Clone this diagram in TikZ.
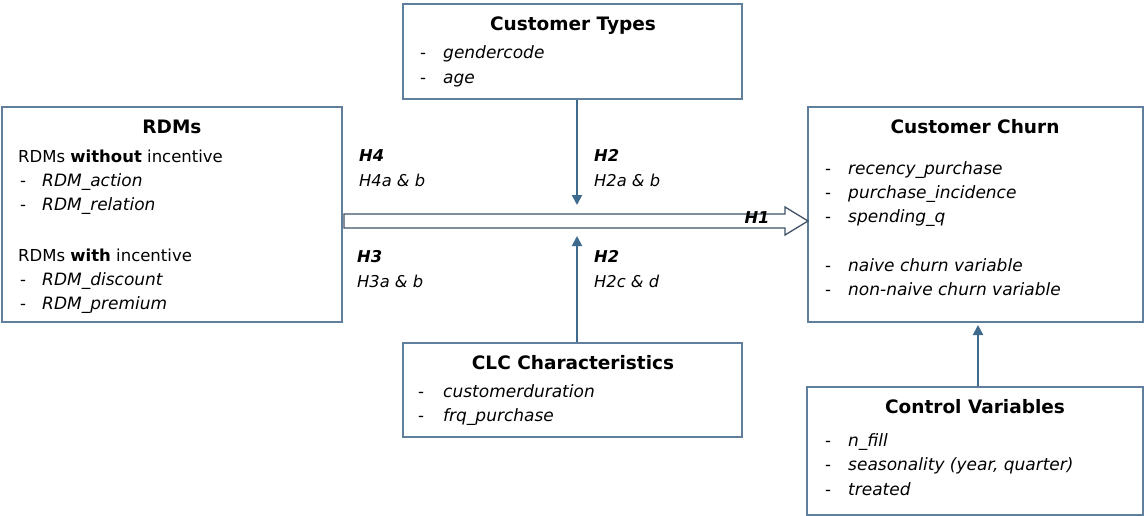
\documentclass[tikz,border=0pt]{standalone}
\usepackage{fontspec}
\setmainfont{DejaVu Sans}
\usetikzlibrary{arrows.meta}
\definecolor{boxc}{HTML}{5F7F9C}
\definecolor{arrc}{HTML}{3E6A8E}
\definecolor{hone}{HTML}{3F5266}
\begin{document}
\begin{tikzpicture}[x=1pt,y=-1pt,
  box/.style={draw=boxc,line width=1.4pt,inner sep=0pt},
  ttl/.style={font=\fontsize{18.5}{21}\selectfont\bfseries,anchor=mid},
  txt/.style={font=\fontsize{16.5}{19}\selectfont,anchor=mid west,inner sep=0pt},
  itm/.style={font=\fontsize{17}{19}\selectfont\itshape,anchor=mid west,inner sep=0pt},
  hyp/.style={font=\fontsize{16.3}{19}\selectfont\itshape,anchor=mid west,inner sep=0pt},
  hypb/.style={font=\fontsize{16.3}{19}\selectfont\bfseries\itshape,anchor=mid west,inner sep=0pt},
  conn/.style={draw=arrc,line width=2pt,-{Triangle[length=10pt,width=10pt]}}]
\useasboundingbox (0,0) rectangle (1148,516);
% boxes
\node[box,minimum width=340pt,minimum height=215pt] (rdm) at (172,214.5) {};
\node[box,minimum width=339pt,minimum height=95pt] (ct) at (572.5,51.5) {};
\node[box,minimum width=335pt,minimum height=215pt] (churn) at (975.5,214.5) {};
\node[box,minimum width=339pt,minimum height=94pt] (clc) at (572.5,390) {};
\node[box,minimum width=336pt,minimum height=128pt] (ctrl) at (975,451) {};
% RDMs
\node[ttl] (rdmt) at (172,131) {RDMs};
\node[txt] (rdm1) at (18,160) {RDMs \textbf{without} incentive};
\node[txt] (rdmd1) at (20,184) {-};
\node[itm] (rdm2) at (42,184) {RDM\_action};
\node[txt] (rdmd2) at (20,208) {-};
\node[itm] (rdm3) at (42,208) {RDM\_relation};
\node[txt] (rdm4) at (18,259) {RDMs \textbf{with} incentive};
\node[txt] (rdmd3) at (20,283) {-};
\node[itm] (rdm5) at (42,283) {RDM\_discount};
\node[txt] (rdmd4) at (20,307) {-};
\node[itm] (rdm6) at (42,307) {RDM\_premium};
% Customer types
\node[ttl] (ctt) at (573,28) {Customer Types};
\node[txt] (ctd1) at (420,56) {-};
\node[itm] (ct1) at (443,56) {gendercode};
\node[txt] (ctd2) at (420,81) {-};
\node[itm] (ct2) at (443,81) {age};
% Churn
\node[ttl] (cht) at (975,131) {Customer Churn};
\node[txt] (chd1) at (825,172) {-};
\node[itm] (ch1) at (848,172) {recency\_purchase};
\node[txt] (chd2) at (825,196) {-};
\node[itm] (ch2) at (848,196) {purchase\_incidence};
\node[txt] (chd3) at (825,220) {-};
\node[itm] (ch3) at (848,220) {spending\_q};
\node[txt] (chd4) at (825,269) {-};
\node[itm] (ch4) at (848,269) {naive churn variable};
\node[txt] (chd5) at (825,293) {-};
\node[itm] (ch5) at (848,293) {non-naive churn variable};
% CLC
\node[ttl] (clct) at (573,367) {CLC Characteristics};
\node[txt] (clcd1) at (418,395) {-};
\node[itm] (clc1) at (443,395) {customerduration};
\node[txt] (clcd2) at (418,419) {-};
\node[itm] (clc2) at (443,419) {frq\_purchase};
% Control
\node[ttl] (ctrlt) at (975,411) {Control Variables};
\node[txt] (ctrld1) at (825,444) {-};
\node[itm] (ctrl1) at (848,444) {n\_fill};
\node[txt] (ctrld2) at (825,468) {-};
\node[itm] (ctrl2) at (848,468) {seasonality (year, quarter)};
\node[txt] (ctrld3) at (825,493) {-};
\node[itm] (ctrl3) at (848,493) {treated};
% H1 big arrow
\draw[draw=hone,line width=1.3pt,fill=white,line join=miter]
  (344,214) -- (785,214) -- (785,207) -- (808,221) -- (785,235) -- (785,228) -- (344,228) -- cycle;
\node[hypb,anchor=mid] (h1) at (757,221) {H1};
% vertical arrows
\coordinate (dtip) at (577,205);
\coordinate (utip) at (577,236);
\coordinate (ctip) at (978,325);
\draw[conn] (dtip |- ct.south) -- (dtip);
\draw[conn] (utip |- clc.north) -- (utip);
\draw[conn] (ctip |- ctrl.north) -- (ctip);
% hypothesis labels
\node[hypb] (h4) at (359,159) {H4};
\node[hyp] (h4s) at (359,184) {H4a \& b};
\node[hypb] (h2a) at (594,159) {H2};
\node[hyp] (h2as) at (594,184) {H2a \& b};
\node[hypb] (h3) at (357,260) {H3};
\node[hyp] (h3s) at (357,285) {H3a \& b};
\node[hypb] (h2b) at (594,260) {H2};
\node[hyp] (h2bs) at (594,285) {H2c \& d};
\end{tikzpicture}
\end{document}
